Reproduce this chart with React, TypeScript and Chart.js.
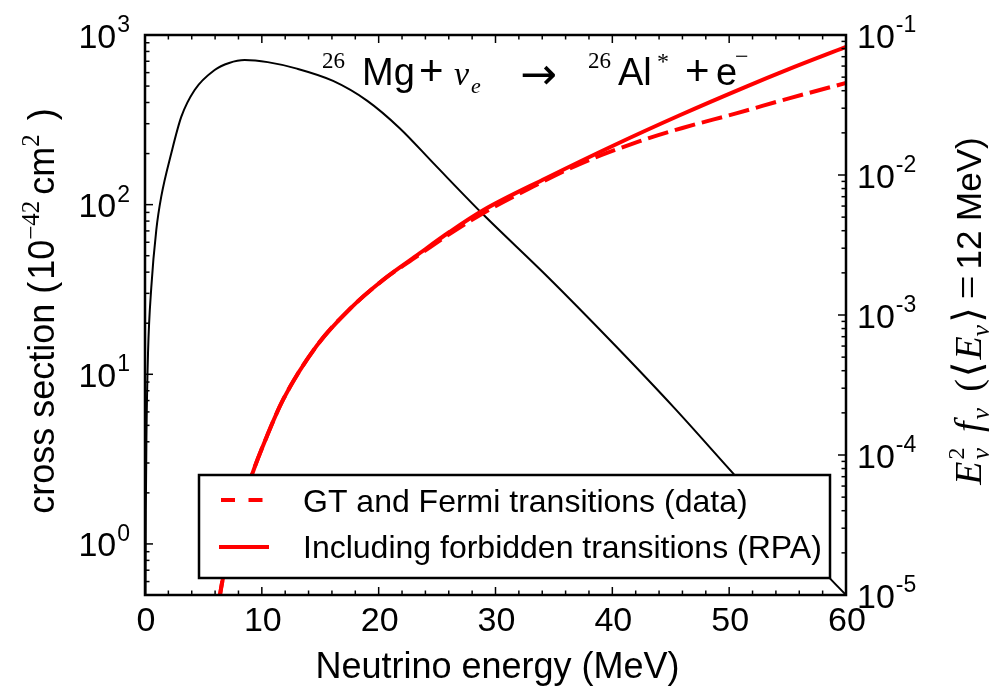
import React, { useEffect, useRef } from 'react';
import { Chart, registerables } from 'chart.js';

Chart.register(...registerables);

// ---- data ----
// neutrino energy spectrum E^2 f(E), <E> = 12 MeV  (right axis)
const fluxEnergy = [0.02, 0.07, 0.13, 0.26, 0.54, 0.97, 1.39, 2.25, 3.11, 4.25, 5.96, 7.2, 8.53, 10.5, 13.0, 16.1, 19.0, 21.8, 24.7, 28.8, 34.5, 40.06, 45.3, 50.47, 55.0, 58.6, 60];
const fluxValue = [2.5e-6, 4.0e-5, 1.5e-4, 5.4e-4, 1.58e-3, 4.07e-3, 7.0e-3, 0.0143, 0.0261, 0.0405, 0.0562, 0.0631, 0.0662, 0.0640, 0.0575, 0.0470, 0.0340, 0.0216, 0.0121, 0.00537, 0.00186, 6.28e-4, 2.17e-4, 7.19e-5, 2.77e-5, 1.32e-5, 1.0e-5];

// cross section including forbidden transitions (RPA), 1e-42 cm^2 (left axis)
const rpaEnergy = [5.5, 6.0, 6.42, 7.5, 9.13, 10.52, 11.83, 14.69, 17.54, 20.39, 23.24, 26.09, 28.94, 34.36, 40.06, 45.77, 51.47, 55.0, 60];
const rpaValue = [0.1, 0.282, 0.501, 1.07, 2.53, 4.46, 7.11, 14.7, 24.3, 36.1, 50.1, 69.2, 92.7, 143.6, 222.6, 336.5, 496.6, 625, 851];

// GT and Fermi transitions (data), 1e-42 cm^2 (left axis)
const gtEnergy = [5.5, 6.0, 6.42, 7.5, 9.13, 10.52, 11.83, 14.69, 17.54, 20.39, 23.24, 26.09, 28.94, 32.9, 37.2, 42.35, 46.0, 50.6, 55.2, 60];
const gtValue = [0.1, 0.282, 0.501, 1.07, 2.53, 4.46, 7.11, 14.7, 24.3, 36.0, 49.4, 67.3, 89.1, 124.5, 173.4, 236.6, 283.1, 345.1, 424.6, 521.2];

const xTickValues = [0, 10, 20, 30, 40, 50, 60];
const leftExponents = [0, 1, 2, 3];
const rightExponents = [-5, -4, -3, -2, -1];
const legendLabels = ['GT and Fermi transitions (data)', 'Including forbidden transitions (RPA)'];
const xTitle = 'Neutrino energy (MeV)';

const SANS = "'Liberation Sans', Arial, sans-serif";
const SERIF = "'Liberation Serif', 'DejaVu Serif', serif";
const RED = '#ff0000';

type Run = { t: string; f: string; dy?: number; gap?: number; adv?: boolean };

function drawRuns(ctx: CanvasRenderingContext2D, runs: Run[], x: number, y: number, rotate: boolean) {
  let total = 0;
  for (const r of runs) {
    ctx.font = r.f;
    total += (r.gap || 0) + (r.adv === false ? 0 : ctx.measureText(r.t).width);
  }
  ctx.save();
  ctx.translate(x, y);
  if (rotate) ctx.rotate(-Math.PI / 2);
  ctx.textAlign = 'left';
  ctx.textBaseline = 'alphabetic';
  let cx = -total / 2;
  for (const r of runs) {
    ctx.font = r.f;
    cx += r.gap || 0;
    ctx.fillText(r.t, cx, r.dy || 0);
    if (r.adv !== false) cx += ctx.measureText(r.t).width;
  }
  ctx.restore();
}

const decorPlugin = {
  id: 'decor',
  afterDatasetsDraw(chart: any) {
    const { ctx, chartArea: a, scales } = chart;
    const xs = scales.x, yl = scales.y, yr = scales.y2;
    ctx.save();
    ctx.strokeStyle = '#000';
    ctx.fillStyle = '#000';
    ctx.lineWidth = 1.5;
    const seg = (x1: number, y1: number, x2: number, y2: number) => {
      ctx.beginPath(); ctx.moveTo(x1, y1); ctx.lineTo(x2, y2); ctx.stroke();
    };
    // x ticks (inward, top and bottom)
    for (let v = 0; v <= 60; v += 2) {
      const px = xs.getPixelForValue(v);
      const len = v % 10 === 0 ? 8 : 4.5;
      seg(px, a.bottom, px, a.bottom - len);
      seg(px, a.top, px, a.top + len);
    }
    // left log ticks
    for (let e = -1; e <= 3; e++) {
      for (let m = 1; m <= 9; m++) {
        const v = m * Math.pow(10, e);
        if (v < 0.5 - 1e-9 || v > 1000 + 1e-6) continue;
        const py = yl.getPixelForValue(v);
        seg(a.left, py, a.left + (m === 1 ? 8 : 4.5), py);
      }
    }
    // right log ticks
    for (let e = -5; e <= -1; e++) {
      for (let m = 1; m <= 9; m++) {
        const v = m * Math.pow(10, e);
        if (v < 1e-5 * (1 - 1e-9) || v > 0.1 * (1 + 1e-9)) continue;
        const py = yr.getPixelForValue(v);
        seg(a.right, py, a.right - (m === 1 ? 8 : 4.5), py);
      }
    }
    // frame
    ctx.lineWidth = 2.5;
    ctx.strokeRect(a.left, a.top, a.right - a.left, a.bottom - a.top);

    // tick labels
    const big = `34px ${SANS}`;
    const sup = `23px ${SANS}`;
    ctx.textBaseline = 'alphabetic';
    ctx.textAlign = 'center';
    ctx.font = big;
    for (const v of xTickValues) {
      ctx.fillText(String(v), xs.getPixelForValue(v) + 1, a.bottom + 36);
    }
    ctx.textAlign = 'left';
    for (const e of leftExponents) {
      const py = yl.getPixelForValue(Math.pow(10, e));
      ctx.font = big; const w1 = ctx.measureText('10').width;
      ctx.font = sup; const w2 = ctx.measureText(String(e)).width;
      const x0 = a.left - 16 - w1 - w2;
      ctx.font = big; ctx.fillText('10', x0, py + 12.5);
      ctx.font = sup; ctx.fillText(String(e), x0 + w1 + 1, py - 3);
    }
    for (const e of rightExponents) {
      const py = yr.getPixelForValue(Math.pow(10, e));
      const x0 = a.right + 11;
      ctx.font = big; const w1 = ctx.measureText('10').width;
      ctx.fillText('10', x0, py + 12.5);
      ctx.font = sup; ctx.fillText(String(e), x0 + w1 + 1, py - 3);
    }

    // axis titles
    ctx.font = `36px ${SANS}`;
    ctx.textAlign = 'center';
    ctx.fillText(xTitle, (a.left + a.right) / 2 + 2, a.bottom + 83);

    const midY = (a.top + a.bottom) / 2 - 4;
    drawRuns(ctx, [
      { t: 'cross section (', f: `36px ${SANS}` },
      { t: '10', f: `36px ${SANS}`, gap: 2 },
      { t: '\u221242', f: `25px ${SERIF}`, dy: -15 },
      { t: 'cm', f: `36px ${SANS}`, gap: 6 },
      { t: '2', f: `25px ${SERIF}`, dy: -15 },
      { t: ')', f: `36px ${SANS}`, gap: 14 },
    ], a.left - 91, midY, true);

    drawRuns(ctx, [
      { t: 'E', f: `italic 38px ${SERIF}` },
      { t: '2', f: `24px ${SERIF}`, dy: -17, adv: false, gap: 2 },
      { t: '\u03bd', f: `italic 26px ${SERIF}`, dy: 8 },
      { t: 'f', f: `italic 38px ${SERIF}`, gap: 16 },
      { t: '\u03bd', f: `italic 26px ${SERIF}`, dy: 8, gap: 2 },
      { t: '(', f: `38px ${SERIF}`, gap: 16 },
      { t: '\u27e8', f: `40px 'DejaVu Serif', serif`, gap: 2 },
      { t: 'E', f: `italic 38px ${SERIF}`, gap: 2 },
      { t: '\u03bd', f: `italic 26px ${SERIF}`, dy: 8 },
      { t: '\u27e9', f: `40px 'DejaVu Serif', serif`, gap: 2 },
      { t: '=', f: `42px ${SERIF}`, gap: 8 },
      { t: '12', f: `35px ${SANS}`, gap: 6 },
      { t: ' MeV)', f: `35px ${SANS}` },
    ], a.right + 135, midY, true);
    ctx.restore();
  },
  afterDraw(chart: any) {
    const { ctx, chartArea: a } = chart;
    ctx.save();
    // legend
    const lx = a.left + 54, rx = a.right - 16, by = a.bottom - 17, ty = by - 103;
    ctx.fillStyle = '#fff';
    ctx.fillRect(lx, ty, rx - lx, by - ty);
    ctx.strokeStyle = '#000';
    ctx.lineWidth = 2.5;
    ctx.strokeRect(lx, ty, rx - lx, by - ty);
    const rows = [ty + 37, ty + 83];
    ctx.strokeStyle = RED;
    ctx.lineWidth = 4;
    ctx.lineCap = 'butt';
    ctx.setLineDash([14, 13.5]);
    ctx.beginPath(); ctx.moveTo(lx + 22, rows[0] - 12); ctx.lineTo(lx + 66, rows[0] - 12); ctx.stroke();
    ctx.setLineDash([]);
    ctx.beginPath(); ctx.moveTo(lx + 20, rows[1] - 11); ctx.lineTo(lx + 70, rows[1] - 11); ctx.stroke();
    ctx.fillStyle = '#000';
    ctx.font = `32px ${SANS}`;
    ctx.textAlign = 'left';
    ctx.textBaseline = 'alphabetic';
    ctx.fillText(legendLabels[0], lx + 104, rows[0]);
    ctx.fillText(legendLabels[1], lx + 104, rows[1]);

    // reaction annotation
    const base = a.top + 50;
    const items: { t: string; f: string; x: number; dy?: number }[] = [
      { t: '26', f: `23px ${SERIF}`, x: 177, dy: -17 },
      { t: 'Mg', f: `38px ${SANS}`, x: 217 },
      { t: '+', f: `42px ${SANS}`, x: 274 },
      { t: '\u03bd', f: `italic 34px ${SERIF}`, x: 309 },
      { t: 'e', f: `italic 22px ${SERIF}`, x: 326, dy: 8 },
      { t: '\u2192', f: `44px 'DejaVu Sans', sans-serif`, x: 375, dy: 4 },
      { t: '26', f: `23px ${SERIF}`, x: 443, dy: -17 },
      { t: 'Al', f: `38px ${SANS}`, x: 473 },
      { t: '*', f: `24px ${SERIF}`, x: 512, dy: -16 },
      { t: '+', f: `42px ${SANS}`, x: 540 },
      { t: 'e', f: `38px ${SANS}`, x: 571 },
      { t: '\u2212', f: `24px ${SERIF}`, x: 590, dy: -21 },
    ];
    for (const it of items) {
      ctx.font = it.f;
      ctx.fillText(it.t, a.left + it.x, base + (it.dy || 0));
    }
    ctx.restore();
  },
};

export default function App() {
  const ref = useRef<HTMLCanvasElement | null>(null);
  useEffect(() => {
    if (!ref.current) return;
    const toPts = (xs: number[], ys: number[]) => xs.map((x, i) => ({ x, y: ys[i] }));
    const chart = new Chart(ref.current, {
      type: 'line',
      data: {
        datasets: [
          {
            label: legendLabels[1],
            data: toPts(rpaEnergy, rpaValue),
            yAxisID: 'y',
            borderColor: RED,
            borderWidth: 4,
            pointRadius: 0,
            cubicInterpolationMode: 'monotone',
            clip: 0,
            order: 0,
          },
          {
            label: legendLabels[0],
            data: toPts(gtEnergy, gtValue),
            yAxisID: 'y',
            borderColor: RED,
            borderWidth: 4,
            borderDash: [21, 7],
            borderCapStyle: 'butt',
            pointRadius: 0,
            cubicInterpolationMode: 'monotone',
            clip: 0,
            order: 1,
          },
          {
            label: 'flux',
            data: toPts(fluxEnergy, fluxValue),
            yAxisID: 'y2',
            borderColor: '#000',
            borderWidth: 2,
            pointRadius: 0,
            cubicInterpolationMode: 'monotone',
            clip: 0,
            order: 2,
          },
        ],
      },
      options: {
        animation: false,
        responsive: false,
        events: [],
        layout: { padding: { top: 35, left: 0, right: 0, bottom: 0 } },
        plugins: { legend: { display: false }, tooltip: { enabled: false }, title: { display: false } },
        scales: {
          x: {
            type: 'linear', min: 0, max: 60,
            ticks: { display: false }, grid: { display: false, drawTicks: false }, border: { display: false },
            afterFit: (s: any) => { s.height = 91; },
          },
          y: {
            type: 'logarithmic', position: 'left', min: 0.5, max: 1000,
            ticks: { display: false }, grid: { display: false, drawTicks: false }, border: { display: false },
            afterFit: (s: any) => { s.width = 145; },
          },
          y2: {
            type: 'logarithmic', position: 'right', min: 1e-5, max: 0.1,
            ticks: { display: false }, grid: { display: false, drawTicks: false }, border: { display: false },
            afterFit: (s: any) => { s.width = 150; },
          },
        },
      } as any,
      plugins: [decorPlugin],
    });
    return () => chart.destroy();
  }, []);
  return (
    <div style={{ position: 'fixed', left: 0, top: 0, width: 996, height: 686, background: '#fff' }}>
      <canvas ref={ref} width={996} height={686} />
    </div>
  );
}
